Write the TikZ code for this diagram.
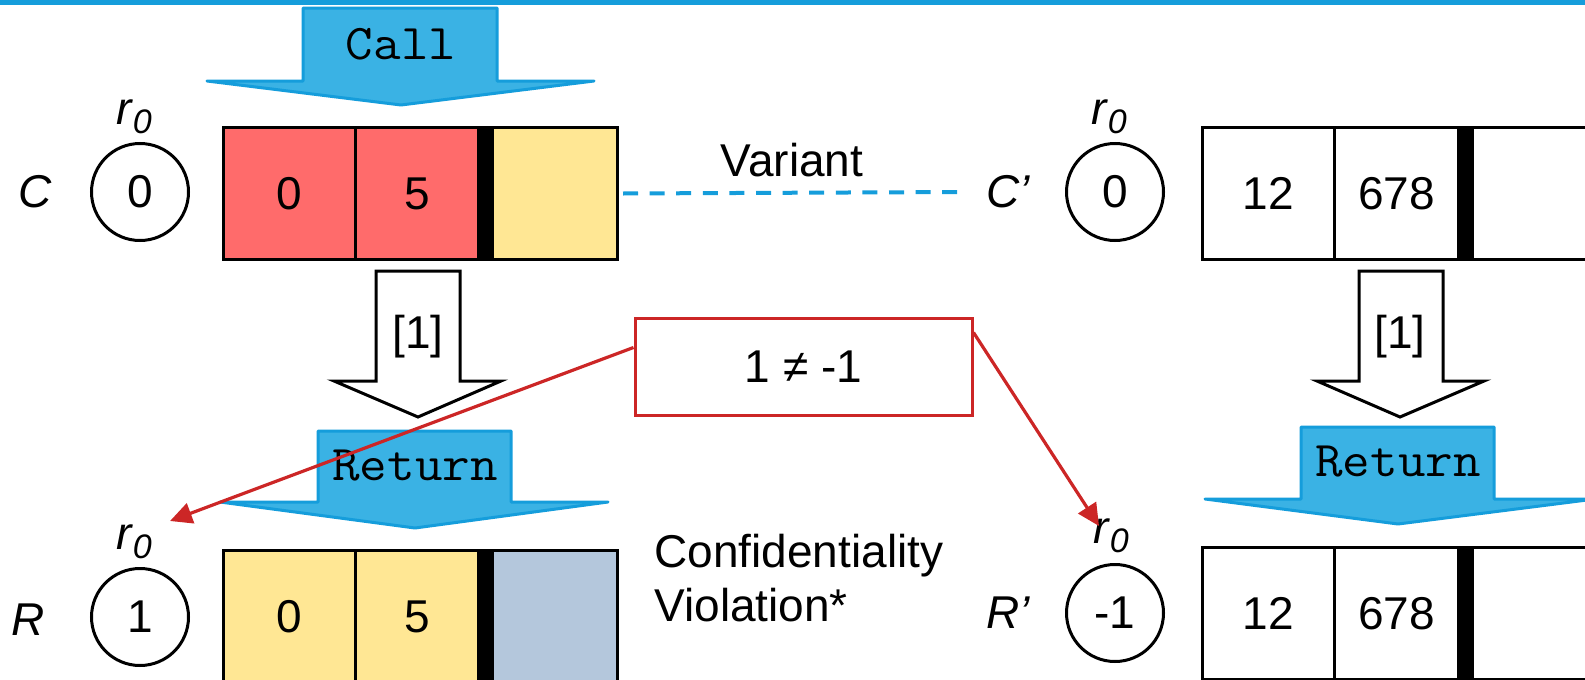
\documentclass[tikz,border=0pt]{standalone}
\usepackage{fontspec}
\setmainfont{Liberation Sans}
\usetikzlibrary{arrows.meta,calc}

\definecolor{callblue}{HTML}{3AB2E4}
\definecolor{calledge}{HTML}{159DDB}
\definecolor{secred}{HTML}{FF6B6B}
\definecolor{pubyellow}{HTML}{FFE794}
\definecolor{freshgrey}{HTML}{B4C7DC}
\definecolor{alertred}{HTML}{CC2626}

\tikzset{
  txt/.style={font=\fontsize{23}{27}\selectfont, inner sep=0pt},
  lab/.style={txt, font=\fontsize{23}{27}\selectfont\itshape},
  reg/.style={draw, circle, line width=1.5pt, minimum size=48.5pt, inner sep=0pt,
              font=\fontsize{23}{27}\selectfont},
  cell/.style={draw, line width=1.5pt, minimum height=66pt, inner sep=0pt,
               anchor=north west, font=\fontsize{23}{27}\selectfont},
  bar/.style={fill=black, draw=black, line width=1.5pt, minimum height=66pt,
              minimum width=7pt, inner sep=0pt, anchor=north west},
  bluearrow/.style={fill=callblue, draw=calledge, line width=1.5pt, line join=round},
  hollowarrow/.style={fill=white, draw=black, line width=1.5pt, line join=miter},
  mono/.style={font=\fontsize{25}{29}\selectfont\ttfamily, inner sep=0pt},
  alertbox/.style={draw=alertred, line width=1.5pt, minimum width=168.5pt,
                   minimum height=48.5pt, inner sep=0pt, font=\fontsize{23}{27}\selectfont},
  alertarrow/.style={draw=alertred, line width=1.6pt,
                     -{Triangle[length=11pt, width=10.5pt]}},
  variant/.style={draw=calledge, line width=2pt, dash pattern=on 7.5pt off 5.8pt},
}

\newcommand{\regname}{\textit{r}\raisebox{-0.35ex}{\fontsize{17}{17}\selectfont\textit{0}}}
\newcommand{\monoword}[1]{\scalebox{1.07}[1]{#1}}

\begin{document}
\begin{tikzpicture}[x=0.5pt, y=-0.5pt]
  \useasboundingbox (0,0) rectangle (1585,680);

  % top rule
  \fill[calledge] (0,0) rectangle (1585,5);

  % ---- Call arrow
  \draw[bluearrow] (303,8) -- (497,8) -- (497,81) -- (594,81) -- (401,105)
        -- (207,81) -- (303,81) -- cycle;
  \node[mono] (call) at (401,44) {\monoword{Call}};

  % ---- C row
  \node[lab] (clab) at (35,192) {C};
  \node[reg] (creg) at (140,192) {0};
  \node[txt] (cr0) at (134,117) {\regname};
  \node[cell, fill=secred, minimum width=66pt] (c1) at (222,126) {0};
  \node[cell, fill=secred, minimum width=61.5pt] (c2) at (354,126) {5};
  \node[bar] (cb) at (477,126) {};
  \node[cell, fill=pubyellow, minimum width=62.5pt] (c3) at (491,126) {};

  % ---- C' row
  \node[lab] (cplab) at (1008,192) {C’};
  \node[reg] (cpreg) at (1115,192) {0};
  \node[txt] (cpr0) at (1109,117) {\regname};
  \node[cell, fill=white, minimum width=66pt] (cp1) at (1201,126) {12};
  \node[cell, fill=white, minimum width=62pt] (cp2) at (1333,126) {678};
  \node[bar] (cpb) at (1457,126) {};
  \node[cell, fill=white, minimum width=80pt] (cp3) at (1471,126) {};

  % variant relation
  \node[txt] (variant) at (792,160) {Variant};
  \draw[variant] ([xshift=2pt]c3.east) -- ([xshift=-13pt]cplab.west);

  % ---- execution arrows
  \draw[hollowarrow] (376,271) -- (460,271) -- (460,381) -- (501,381) -- (418,417)
        -- (334,381) -- (376,381) -- cycle;
  \node[txt] (step) at (418,337) {[1]};
  \draw[hollowarrow] (1359,271) -- (1443,271) -- (1443,381) -- (1484,381) -- (1400,417)
        -- (1317,381) -- (1359,381) -- cycle;
  \node[txt] (stepp) at (1400,337) {[1]};

  % ---- Return arrows
  \draw[bluearrow] (318,431) -- (511,431) -- (511,502) -- (608,502) -- (415,528)
        -- (220,502) -- (318,502) -- cycle;
  \node[mono] (ret) at (415,466) {\monoword{Return}};
  \draw[bluearrow] (1301,427) -- (1494,427) -- (1494,499) -- (1595,499) -- (1398,524)
        -- (1205,499) -- (1301,499) -- cycle;
  \node[mono] (retp) at (1398,462) {\monoword{Return}};

  % ---- R row
  \node[lab] (rlab) at (28,620) {R};
  \node[reg] (rreg) at (140,617) {1};
  \node[txt] (rr0) at (134,542) {\regname};
  \node[cell, fill=pubyellow, minimum width=66pt] (r1) at (222,549) {0};
  \node[cell, fill=pubyellow, minimum width=61.5pt] (r2) at (354,549) {5};
  \node[bar] (rb) at (477,549) {};
  \node[cell, fill=freshgrey, minimum width=62.5pt] (r3) at (491,549) {};

  \node[txt, align=left, anchor=west] (viol) at (654,578)
        {Confidentiality\\Violation*};

  % ---- R' row
  \node[lab] (rplab) at (1008,613) {R’};
  \node[reg] (rpreg) at (1115,613) {-1};
  \node[txt] (rpr0) at (1111,536) {\regname};
  \node[cell, fill=white, minimum width=66pt] (rp1) at (1201,546) {12};
  \node[cell, fill=white, minimum width=62pt] (rp2) at (1333,546) {678};
  \node[bar] (rpb) at (1457,546) {};
  \node[cell, fill=white, minimum width=80pt] (rp3) at (1471,546) {};

  % ---- mismatch of the returned registers
  \node[alertbox] (neq) at (803.5,366.5) {1 ≠ -1};
  \coordinate (hitR) at (170,521);
  \coordinate (hitRp) at (1099,526);
  \draw[alertarrow] ([yshift=-15.5pt]neq.north west) -- (hitR);
  \draw[alertarrow] ([yshift=-8pt]neq.north east) -- (hitRp);
\end{tikzpicture}
\end{document}
